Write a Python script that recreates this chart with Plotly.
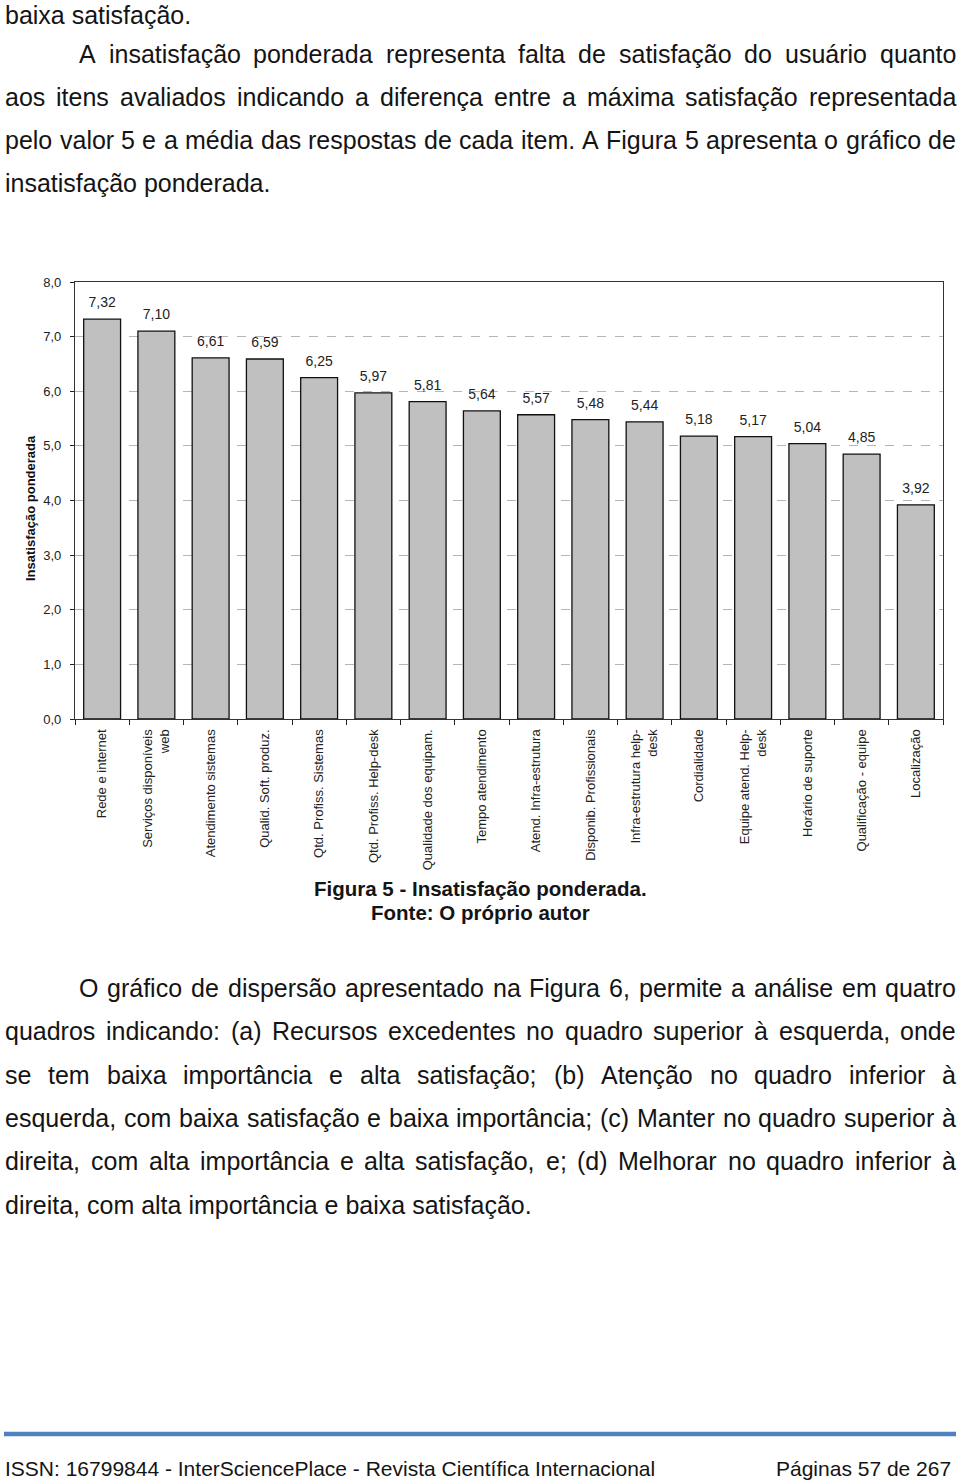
import plotly.graph_objects as go

W, H = 960, 1483

categories = [
    "Rede e internet", "Serviços disponíveis<br>web", "Atendimento sistemas",
    "Qualid. Soft. produz.", "Qtd. Profiss. Sistemas", "Qtd. Profiss. Help-desk",
    "Qualidade dos equipam.", "Tempo atendimento", "Atend. Infra-estrutura",
    "Disponib. Profissionais", "Infra-estrutura help-<br>desk", "Cordialidade",
    "Equipe atend. Help-<br>desk", "Horário de suporte", "Qualificação - equipe",
    "Localização",
]
values = [7.32, 7.10, 6.61, 6.59, 6.25, 5.97, 5.81, 5.64, 5.57, 5.48, 5.44,
          5.18, 5.17, 5.04, 4.85, 3.92]
y_ticks = [0, 1, 2, 3, 4, 5, 6, 7, 8]

para1 = [
    ("baixa satisfação.", "left", 4, 15),
    ("A insatisfação ponderada representa falta de satisfação do usuário quanto", "just", 78, 54),
    ("aos itens avaliados indicando a diferença entre a máxima satisfação representada", "just", 4, 97),
    ("pelo valor 5 e a média das respostas de cada item. A Figura 5 apresenta o gráfico de", "just", 4, 140),
    ("insatisfação ponderada.", "left", 4, 183),
]
para2 = [
    ("O gráfico de dispersão apresentado na Figura 6, permite a análise em quatro", "just", 78, 988),
    ("quadros indicando: (a) Recursos excedentes no quadro superior à esquerda, onde", "just", 4, 1031),
    ("se tem baixa importância e alta satisfação; (b) Atenção no quadro inferior à", "just", 4, 1075),
    ("esquerda, com baixa satisfação e baixa importância; (c) Manter no quadro superior à", "just", 4, 1118),
    ("direita, com alta importância e alta satisfação, e; (d) Melhorar no quadro inferior à", "just", 4, 1161),
    ("direita, com alta importância e baixa satisfação.", "left", 4, 1205),
]
caption = ["Figura 5 - Insatisfação ponderada.", "Fonte: O próprio autor"]
footer_left = "ISSN: 16799844 - InterSciencePlace - Revista Científica Internacional"
footer_right = "Páginas 57 de 267"

# Helvetica / Arial advance widths (1/1000 em)
WID = {' ': 278, '!': 278, '(': 333, ')': 333, ',': 278, '-': 333, '.': 278, ':': 278,
       ';': 278, '0': 556, '1': 556, '2': 556, '3': 556, '4': 556, '5': 556, '6': 556,
       '7': 556, '8': 556, '9': 556,
       'A': 667, 'B': 667, 'C': 722, 'D': 722, 'E': 667, 'F': 611, 'G': 778, 'H': 722,
       'I': 278, 'J': 500, 'K': 667, 'L': 556, 'M': 833, 'N': 722, 'O': 778, 'P': 667,
       'Q': 778, 'R': 722, 'S': 667, 'T': 611, 'U': 722, 'V': 667, 'W': 944, 'X': 667,
       'Y': 667, 'Z': 611,
       'a': 556, 'b': 556, 'c': 500, 'd': 556, 'e': 556, 'f': 278, 'g': 556, 'h': 556,
       'i': 222, 'j': 222, 'k': 500, 'l': 222, 'm': 833, 'n': 556, 'o': 556, 'p': 556,
       'q': 556, 'r': 333, 's': 500, 't': 278, 'u': 556, 'v': 500, 'w': 722, 'x': 500,
       'y': 500, 'z': 500,
       'ç': 500, 'ã': 556, 'á': 556, 'à': 556, 'â': 556, 'é': 556, 'ê': 556, 'í': 278,
       'ó': 556, 'õ': 556, 'ô': 556, 'ú': 556, 'Á': 667, 'É': 667}


def tw(s, size):
    return sum(WID.get(c, 556) for c in s) * size / 1000.0


FONT = "Arial, Liberation Sans, sans-serif"
TXT = "#141414"
PSIZE = 25
RIGHT = 955

annotations = []


def add_line(text, mode, x0, ypix):
    ypap = 1 - ypix / H
    if mode == "left":
        annotations.append(dict(text=text, x=x0 / W, y=ypap, xref="paper", yref="paper",
                                xanchor="left", yanchor="middle", showarrow=False,
                                borderpad=0, font=dict(size=PSIZE, family=FONT, color=TXT)))
        return
    words = text.split(" ")
    widths = [tw(w, PSIZE) for w in words]
    gap = (RIGHT - x0 - sum(widths)) / (len(words) - 1)
    gap = max(gap, 3)
    x = x0
    for w, wd in zip(words, widths):
        annotations.append(dict(text=w, x=x / W, y=ypap, xref="paper", yref="paper",
                                xanchor="left", yanchor="middle", showarrow=False,
                                borderpad=0, font=dict(size=PSIZE, family=FONT, color=TXT)))
        x += wd + gap


for t, m, x0, yp in para1 + para2:
    add_line(t, m, x0, yp)

for t, yp in zip(caption, [888, 912]):
    annotations.append(dict(text="<b>" + t + "</b>", x=0.5, y=1 - yp / H, xref="paper",
                            yref="paper", xanchor="center", yanchor="middle",
                            showarrow=False, font=dict(size=20.5, family=FONT, color=TXT)))

annotations.append(dict(text=footer_left, x=4 / W, y=1 - 1468 / H, xref="paper", yref="paper",
                        xanchor="left", yanchor="middle", showarrow=False, borderpad=0,
                        font=dict(size=21, family=FONT, color=TXT)))
annotations.append(dict(text=footer_right, x=952 / W, y=1 - 1468 / H, xref="paper",
                        yref="paper", xanchor="right", yanchor="middle", showarrow=False,
                        borderpad=0, font=dict(size=21, family=FONT, color=TXT)))

# y-axis title
annotations.append(dict(text="<b>Insatisfação ponderada</b>", x=31 / W, y=1 - 508 / H,
                        xref="paper", yref="paper", xanchor="center", yanchor="middle",
                        textangle=-90, showarrow=False,
                        font=dict(size=13, family=FONT, color="#111")))

fig = go.Figure()
fig.add_trace(go.Bar(
    x=categories, y=values,
    marker=dict(color="#c0c0c0", line=dict(color="#111", width=1.3)),
    hoverinfo="skip",
))
fig.add_trace(go.Scatter(
    x=categories, y=values, mode="markers+text",
    marker=dict(size=12, opacity=0),
    text=[f"{v:.2f}".replace(".", ",") for v in values],
    textposition="top center", cliponaxis=False,
    textfont=dict(size=14, family=FONT, color="#222"),
))

plot_left, plot_right, plot_top, plot_bottom = 75, 943, 282, 719

fig.update_layout(
    width=W, height=H, margin=dict(l=0, r=0, t=0, b=0),
    paper_bgcolor="white", plot_bgcolor="white",
    separators=",.", bargap=0.32, showlegend=False,
    annotations=annotations,
    shapes=[dict(type="line", xref="paper", yref="paper", x0=4 / W, x1=956 / W,
                 y0=1 - 1434 / H, y1=1 - 1434 / H, line=dict(color="#4f81bd", width=4.5))],
    xaxis=dict(domain=[plot_left / W, plot_right / W], type="category",
               range=[-0.5, len(categories) - 0.5], tickson="boundaries",
               ticks="outside", ticklen=5, tickcolor="#222", tickangle=-90,
               ticklabelstandoff=4,
               tickfont=dict(size=13, family=FONT, color="#222"),
               showline=True, linecolor="#333", linewidth=1.3, mirror=True,
               showgrid=False, automargin=False, fixedrange=True),
    yaxis=dict(domain=[1 - plot_bottom / H, 1 - plot_top / H], range=[0, 8],
               tickvals=y_ticks, tickformat=".1f", ticks="outside", ticklen=4,
               tickcolor="#222", ticklabelstandoff=6,
               tickfont=dict(size=13, family=FONT, color="#222"),
               showline=True, linecolor="#333", linewidth=1.3, mirror=True,
               showgrid=True, gridcolor="#b5b5b5", griddash="dash", gridwidth=1,
               zeroline=False, automargin=False, fixedrange=True),
)

fig.write_html("out.html")
